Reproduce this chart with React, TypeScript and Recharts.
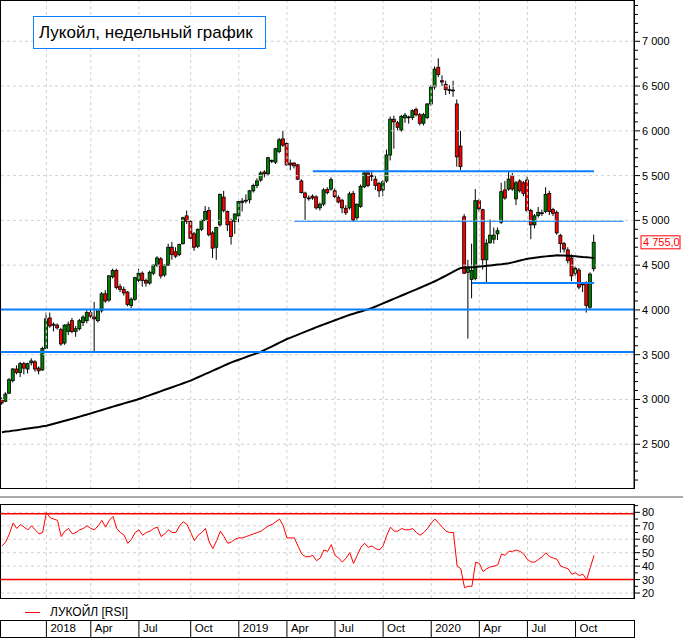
import React from 'react';
import { ComposedChart, Bar, Line, XAxis, YAxis, ReferenceLine } from 'recharts';

// weekly candles, LKOH, Oct 2017 – Nov 2020
const opens = [
  3000, 2980, 3070, 3210, 3340, 3300, 3400, 3340, 3410, 3420, 3350, 3330, 3570, 3910, 3830, 3830, 3780, 3630, 3760, 3880,
  3760, 3790, 3860, 3880, 3970, 3920, 3880, 3990, 4180, 4110, 4370, 4440, 4260, 4230, 4200, 4050, 4120, 4330, 4410, 4330,
  4300, 4410, 4500, 4570, 4390, 4500, 4700, 4650, 4620, 4740, 5050, 4990, 4850, 4710, 4900, 5000, 5110, 4860, 4700, 4950,
  5260, 5100, 5000, 4990, 5050, 5200, 5215, 5230, 5330, 5390, 5450, 5540, 5520, 5670, 5650, 5770, 5910, 5860, 5640, 5640,
  5620, 5440, 5305, 5250, 5270, 5262, 5140, 5182, 5345, 5350, 5330, 5256, 5225, 5135, 5140, 5300, 5030, 5155, 5375, 5530,
  5500, 5460, 5410, 5340, 5440, 5730, 6130, 6090, 6010, 6145, 6150, 6150, 6240, 6180, 6085, 6150, 6300, 6490, 6710, 6560,
  6520, 6460, 6455, 6300, 5830, 5040, 4420, 4340, 4350, 5220, 5120, 4560, 4750, 4790, 4850, 4980, 5340, 5350, 5500, 5240,
  5440, 5420, 5450, 5110, 4950, 5055, 5085, 5100, 5300, 5120, 5090, 4830, 4740, 4670, 4580, 4410, 4445, 4290, 4300, 4030,
  4460,
];
const highs = [
  3020, 3080, 3240, 3350, 3380, 3420, 3420, 3410, 3460, 3440, 3370, 3590, 3970, 3970, 3860, 3850, 3800, 3840, 3870, 3910,
  3820, 3900, 3940, 4000, 4010, 4090, 4010, 4200, 4220, 4390, 4460, 4460, 4290, 4260, 4210, 4140, 4370, 4460, 4430, 4350,
  4440, 4510, 4600, 4590, 4510, 4740, 4760, 4700, 4740, 5040, 5110, 5000, 4870, 4910, 5010, 5160, 5150, 4880, 4930, 5300,
  5330, 5110, 5020, 5080, 5220, 5250, 5290, 5340, 5410, 5470, 5550, 5560, 5710, 5680, 5810, 5920, 6000, 5870, 5680, 5650,
  5630, 5460, 5320, 5280, 5290, 5280, 5200, 5360, 5370, 5480, 5360, 5280, 5240, 5170, 5320, 5330, 5190, 5400, 5550, 5560,
  5560, 5500, 5430, 5450, 5790, 6160, 6170, 6110, 6180, 6200, 6170, 6240, 6260, 6200, 6200, 6310, 6510, 6720, 6810, 6620,
  6560, 6510, 6560, 6350, 6000, 5070, 4560, 4740, 5350, 5240, 5130, 4790, 5010, 4920, 4920, 5420, 5440, 5540, 5530, 5440,
  5460, 5440, 5490, 5130, 5070, 5150, 5120, 5370, 5330, 5140, 5110, 4850, 4760, 4700, 4620, 4490, 4470, 4310, 4320, 4420,
  4840,
];
const lows = [
  2940, 2970, 3060, 3190, 3280, 3250, 3280, 3290, 3380, 3310, 3280, 3320, 3560, 3800, 3760, 3780, 3600, 3610, 3720, 3740,
  3700, 3770, 3820, 3850, 3910, 3530, 3860, 3970, 4080, 4090, 4350, 4230, 4200, 4160, 4040, 4020, 4100, 4310, 4260, 4260,
  4280, 4390, 4480, 4350, 4370, 4490, 4560, 4580, 4600, 4730, 4960, 4790, 4660, 4690, 4880, 4990, 4820, 4580, 4560, 4930,
  5090, 4880, 4730, 4850, 4980, 5100, 5190, 5190, 5310, 5360, 5430, 5480, 5500, 5640, 5630, 5750, 5820, 5610, 5560, 5580,
  5450, 5300, 5005, 5220, 5230, 5120, 5110, 5160, 5290, 5330, 5250, 5190, 5080, 5060, 5120, 4990, 5000, 5140, 5360, 5370,
  5440, 5340, 5260, 5270, 5420, 5670, 5800, 6000, 5990, 6090, 6080, 6120, 6160, 6060, 6060, 6130, 6280, 6460, 6600, 6500,
  6400, 6410, 6380, 5600, 5560, 4400, 3680, 4130, 4330, 5100, 4450, 4300, 4740, 4740, 4780, 4960, 5230, 5330, 5330, 5170,
  5310, 5270, 5090, 4790, 4910, 5030, 5050, 5080, 5060, 5050, 4840, 4640, 4640, 4520, 4320, 4380, 4230, 4200, 3970, 4000,
  4430,
];
const closes = [
  2960, 3060, 3220, 3340, 3300, 3400, 3350, 3400, 3430, 3340, 3320, 3570, 3900, 3820, 3840, 3800, 3620, 3830, 3840, 3760,
  3790, 3880, 3920, 3970, 3930, 3900, 3990, 4180, 4100, 4380, 4440, 4250, 4230, 4190, 4060, 4120, 4360, 4410, 4330, 4300,
  4420, 4500, 4580, 4380, 4500, 4700, 4620, 4600, 4730, 5030, 4990, 4800, 4700, 4900, 5000, 5100, 4840, 4690, 4920, 5290,
  5110, 4950, 4820, 5070, 5210, 5215, 5225, 5330, 5390, 5440, 5530, 5520, 5700, 5660, 5800, 5900, 5840, 5620, 5620, 5610,
  5460, 5310, 5255, 5245, 5250, 5140, 5180, 5340, 5310, 5455, 5265, 5205, 5140, 5085, 5295, 5005, 5180, 5380, 5530, 5390,
  5490, 5390, 5330, 5430, 5730, 6130, 6100, 6040, 6160, 6175, 6155, 6225, 6180, 6085, 6180, 6300, 6490, 6690, 6630, 6545,
  6460, 6450, 6450, 5710, 5600, 4410, 4480, 4440, 5220, 5130, 4560, 4745, 4835, 4835, 4885, 5320, 5250, 5460, 5350, 5420,
  5330, 5300, 5110, 4950, 5050, 5090, 5075, 5290, 5100, 5080, 4860, 4740, 4680, 4550, 4380, 4465, 4255, 4280, 4050, 4400,
  4755,
];
// long moving average (black line)
const movingAvg = [
  2635, 2641, 2646, 2652, 2657, 2663, 2669, 2675, 2681, 2687, 2693, 2700, 2707, 2718, 2729, 2740, 2751, 2762, 2773, 2784,
  2796, 2808, 2820, 2832, 2845, 2858, 2870, 2882, 2895, 2907, 2920, 2932, 2944, 2956, 2968, 2980, 2992, 3005, 3019, 3034,
  3049, 3064, 3078, 3093, 3108, 3122, 3137, 3152, 3166, 3181, 3196, 3211, 3229, 3248, 3266, 3285, 3303, 3322, 3340, 3359,
  3377, 3396, 3414, 3429, 3444, 3459, 3474, 3489, 3504, 3518, 3533, 3553, 3573, 3594, 3614, 3634, 3655, 3675, 3691, 3708,
  3724, 3741, 3757, 3774, 3790, 3807, 3823, 3838, 3854, 3869, 3885, 3900, 3915, 3931, 3946, 3958, 3971, 3983, 3996, 4008,
  4021, 4038, 4056, 4073, 4091, 4108, 4126, 4143, 4161, 4178, 4196, 4213, 4230, 4248, 4266, 4284, 4302, 4320, 4340, 4362,
  4384, 4405, 4427, 4449, 4468, 4472, 4474, 4477, 4480, 4484, 4488, 4492, 4497, 4502, 4507, 4511, 4516, 4521, 4531, 4541,
  4551, 4562, 4572, 4578, 4583, 4588, 4593, 4598, 4602, 4606, 4610, 4609, 4607, 4604, 4601, 4598, 4595, 4591, 4588, 4584,
  4580,
];
const rsiValues = [
  55, 58, 64, 72, 68, 71, 69, 67, 70, 67, 64, 65, 80, 76, 75, 74, 62, 66, 68, 64,
  65, 67, 68, 70, 68, 67, 70, 74, 69, 74, 77, 68, 65, 63, 57, 60, 65, 67, 63, 65,
  66, 68, 69, 62, 64, 67, 65, 65, 70, 73, 71, 65, 59, 63, 65, 68, 58, 53, 59, 66,
  62, 57, 58, 60, 61, 61, 62, 63, 64, 65, 66, 68, 70, 71, 73, 75, 70, 61, 61, 61,
  55, 49, 47, 47, 48, 44, 46, 52, 51, 56, 48, 46, 43, 46, 50, 42, 48, 54, 57, 54,
  55, 53, 52, 55, 63, 69, 66, 66, 68, 67, 67, 68, 65, 63, 65, 68, 72, 75, 72, 69,
  66, 65, 65, 40, 38, 24, 25, 25, 43, 42, 36, 38, 39.5, 40, 41, 49, 48, 51, 51, 52,
  51, 49, 45, 43, 43, 45, 47, 50, 47, 46, 45, 40, 39, 38, 34, 35, 33, 34, 30, 39,
  48,
];

// week index where each quarter starts, and its label
const quarterWeeks = [12, 24, 37, 51, 64, 77, 90, 103, 116, 129, 142, 155];
const quarterLabels = ['2018', 'Apr', 'Jul', 'Oct', '2019', 'Apr', 'Jul', 'Oct', '2020', 'Apr', 'Jul', 'Oct'];

const priceLabels = [2500, 3000, 3500, 4000, 4500, 5000, 5500, 6000, 6500, 7000];
const rsiLabels = [20, 30, 40, 50, 60, 70, 80];
const rsiBands = [79, 30];

// drawn support / resistance levels: price, first week, last week
const levels = [
  { price: 4005, from: -1, to: 172 },
  { price: 3530, from: -1, to: 172 },
  { price: 5548, from: 84, to: 160 },
  { price: 4990, from: 79, to: 168 },
  { price: 4300, from: 127, to: 160 },
];
const levelWidths = [2, 2, 2, 1, 2];

const rows = closes.map((close, i) => ({
  i,
  open: opens[i],
  high: highs[i],
  low: lows[i],
  close,
  ma: movingAvg[i],
  rsi: rsiValues[i],
}));

const lastClose = closes[closes.length - 1];
const X_DOMAIN: [number, number] = [-0.54, 170.8];
const BLUE = '#0a80ff';
const GRID = '#d2d2d2';
const FONT = "'Liberation Sans', Arial, sans-serif";

const priceTicks: number[] = [];
for (let v = 2100; v <= 7400; v += 100) priceTicks.push(v);
const rsiTicks: number[] = [];
for (let v = 20; v <= 85; v += 5) rsiTicks.push(v);

const fmtPrice = (v: number) => String(v).replace(/\B(?=(\d{3})+(?!\d))/g, ' ');

const Candle = (props: any) => {
  const { x, width, payload } = props;
  let { y, height } = props;
  if (height < 0) {
    y += height;
    height = -height;
  }
  const { open, close, high, low } = payload;
  const cx = x + width / 2;
  const span = high - low || 1;
  const py = (v: number) => y + ((high - v) / span) * height;
  const top = py(Math.max(open, close));
  const bot = py(Math.min(open, close));
  const up = close >= open;
  return (
    <g>
      <line x1={cx} x2={cx} y1={y} y2={y + height} stroke="#000" strokeWidth={1} />
      <rect
        x={cx - 1.5}
        y={top}
        width={3}
        height={Math.max(bot - top, 0.8)}
        fill={up ? '#008000' : '#ff0000'}
        stroke="#000"
        strokeWidth={0.8}
      />
    </g>
  );
};

const PriceTick = (props: any) => {
  const { x, y, payload } = props;
  const v = payload.value;
  const major = priceLabels.includes(v);
  return (
    <g>
      <line x1={x} x2={x + (major ? 6 : 4)} y1={y} y2={y} stroke="#000" />
      {major && (
        <text x={x + 8} y={y + 4} fontSize={11} fill="#000" fontFamily={FONT}>
          {fmtPrice(v)}
        </text>
      )}
    </g>
  );
};

const RsiTick = (props: any) => {
  const { x, y, payload } = props;
  const v = payload.value;
  const major = rsiLabels.includes(v);
  return (
    <g>
      <line x1={x} x2={x + (major ? 6 : 4)} y1={y} y2={y} stroke="#000" />
      {major && (
        <text x={x + 8} y={y + 4} fontSize={11} fill="#000" fontFamily={FONT}>
          {v}
        </text>
      )}
    </g>
  );
};

// date strip sits 22.5px below the RSI plot
const DateTick = (props: any) => {
  const { x, y, payload } = props;
  const k = quarterWeeks.indexOf(payload.value);
  return (
    <g>
      <line x1={x} x2={x} y1={y + 22.5} y2={y + 40} stroke="#000" />
      <text x={x + 4} y={y + 33.5} fontSize={11.5} fill="#000" fontFamily={FONT}>
        {k >= 0 ? quarterLabels[k] : ''}
      </text>
    </g>
  );
};

const PriceTag = (props: any) => {
  const vb = props.viewBox || {};
  const left = vb.x + vb.width + 7;
  const cy = vb.y;
  return (
    <g>
      <rect x={left} y={cy - 6.5} width={39} height={13} fill="#fff" stroke="#ff0000" strokeWidth={1} />
      <text x={left + 2} y={cy + 4} fontSize={11} fill="#ff0000" fontFamily={FONT}>
        {fmtPrice(Math.floor(lastClose)) + ',' + String(Math.round((lastClose % 1) * 10))}
      </text>
    </g>
  );
};

export default function App() {
  return (
    <div style={{ position: 'relative', width: 683, height: 638, background: '#fff', fontFamily: FONT, overflow: 'hidden' }}>
      <style>{'body{margin:0}'}</style>

      <div style={{ position: 'absolute', left: 0, top: 0 }}>
        <ComposedChart width={683} height={489} data={rows} margin={{ top: 1, right: 0, left: 0, bottom: 0 }}>
          <XAxis dataKey="i" type="number" domain={X_DOMAIN} hide allowDataOverflow />
          <YAxis
            orientation="right"
            width={49}
            domain={[2000, 7450]}
            ticks={priceTicks}
            interval={0}
            allowDataOverflow
            axisLine={{ stroke: '#000' }}
            tickLine={false}
            tickSize={0}
            tickMargin={0}
            tick={<PriceTick />}
          />
          {priceLabels.map((p) => (
            <ReferenceLine key={'h' + p} y={p} stroke={GRID} strokeDasharray="3 3" />
          ))}
          {quarterWeeks.map((q) => (
            <ReferenceLine key={'v' + q} x={q} stroke={GRID} strokeDasharray="3 3" />
          ))}
          <Line
            dataKey="ma"
            type="linear"
            stroke="#000"
            strokeWidth={2}
            dot={false}
            activeDot={false}
            isAnimationActive={false}
          />
          <Bar
            dataKey={(d: any) => [d.low, d.high]}
            barSize={3}
            shape={<Candle />}
            isAnimationActive={false}
          />
          {levels.map((l, k) => (
            <ReferenceLine
              key={'l' + k}
              segment={[
                { x: l.from, y: l.price },
                { x: l.to, y: l.price },
              ]}
              stroke={BLUE}
              strokeWidth={levelWidths[k]}
              ifOverflow="hidden"
            />
          ))}
          <ReferenceLine y={lastClose} stroke="none" label={<PriceTag />} />
        </ComposedChart>
      </div>
      <div style={{ position: 'absolute', left: 0, top: 0, width: 635, height: 489, border: '1px solid #000', boxSizing: 'border-box', pointerEvents: 'none' }} />

      <div
        style={{
          position: 'absolute',
          left: 33,
          top: 16,
          width: 233,
          height: 33,
          border: '1px solid ' + BLUE,
          boxSizing: 'border-box',
          background: '#fff',
          fontSize: 17,
          lineHeight: '31px',
          paddingLeft: 5,
          color: '#000',
          whiteSpace: 'nowrap',
        }}
      >
        Лукойл, недельный график
      </div>

      <div style={{ position: 'absolute', left: 0, top: 496, width: 683, height: 2, background: '#ababab' }} />

      <div style={{ position: 'absolute', left: 0, top: 504 }}>
        <ComposedChart width={683} height={134} data={rows} margin={{ top: 0, right: 0, left: 0, bottom: 0 }}>
          <XAxis
            dataKey="i"
            type="number"
            domain={X_DOMAIN}
            allowDataOverflow
            height={40}
            ticks={quarterWeeks}
            interval={0}
            axisLine={false}
            tickLine={false}
            tickSize={0}
            tickMargin={0}
            tick={<DateTick />}
          />
          <YAxis
            orientation="right"
            width={49}
            domain={[16.3, 86.2]}
            ticks={rsiTicks}
            interval={0}
            allowDataOverflow
            axisLine={{ stroke: '#000' }}
            tickLine={false}
            tickSize={0}
            tickMargin={0}
            tick={<RsiTick />}
          />
          {rsiLabels.map((p) => (
            <ReferenceLine key={'rh' + p} y={p} stroke={GRID} strokeDasharray="3 3" />
          ))}
          {quarterWeeks.map((q) => (
            <ReferenceLine key={'rv' + q} x={q} stroke={GRID} strokeDasharray="3 3" />
          ))}
          {rsiBands.map((b) => (
            <ReferenceLine key={'b' + b} y={b} stroke="#ff0000" strokeWidth={1.5} />
          ))}
          <Line
            dataKey="rsi"
            type="linear"
            stroke="#ff0000"
            strokeWidth={1}
            dot={false}
            activeDot={false}
            isAnimationActive={false}
          />
        </ComposedChart>
      </div>
      <div style={{ position: 'absolute', left: 0, top: 504, width: 635, height: 95, border: '1px solid #000', boxSizing: 'border-box', pointerEvents: 'none' }} />

      <div style={{ position: 'absolute', left: 25, top: 605, height: 14, display: 'flex', alignItems: 'center' }}>
        <div style={{ width: 15, height: 1, background: '#ff0000', marginRight: 10 }} />
        <span style={{ fontSize: 12, color: '#000', lineHeight: '14px' }}>ЛУКОЙЛ [RSI]</span>
      </div>

      <div style={{ position: 'absolute', left: 0, top: 620, width: 635, height: 18, border: '1px solid #000', boxSizing: 'border-box', pointerEvents: 'none' }} />
    </div>
  );
}
